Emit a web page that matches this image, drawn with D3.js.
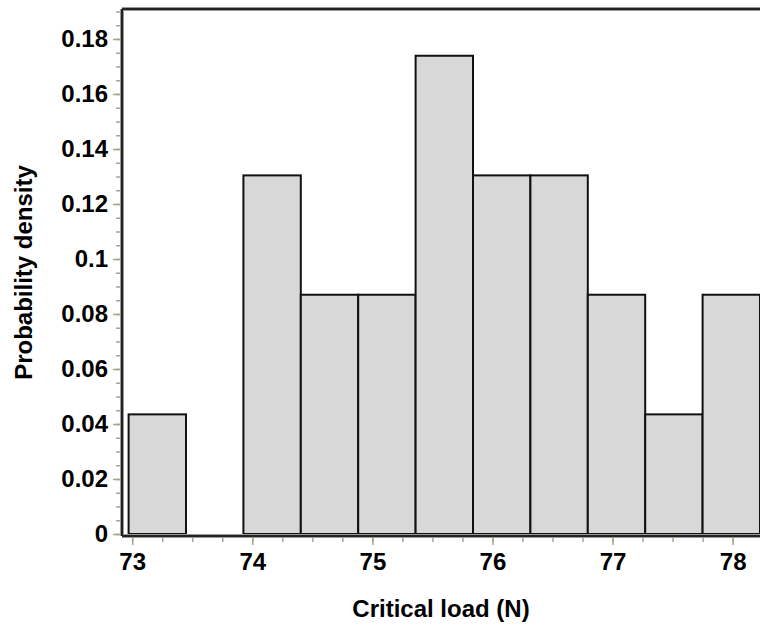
<!DOCTYPE html>
<html>
<head>
<meta charset="utf-8">
<script src="https://cdn.jsdelivr.net/npm/d3@7"></script>
<style>
  html, body { margin: 0; padding: 0; background: #fff; }
  svg { display: block; font-family: "Liberation Sans", Arial, Helvetica, sans-serif; }
  .tick text { font-weight: bold; font-size: 24px; fill: #000; }
  .title { font-weight: bold; font-size: 24px; fill: #000; }
</style>
</head>
<body>
<svg id="chart" width="760" height="628"></svg>
<script>
// Histogram of critical load: bin edges (N) and density per bin
const binEdges = [72.97, 73.448, 73.926, 74.404, 74.882, 75.36, 75.838, 76.316, 76.794, 77.272, 77.75, 78.228];
const densities = [0.0435, 0, 0.1304, 0.087, 0.087, 0.1739, 0.1304, 0.1304, 0.087, 0.0435, 0.087];

// Axis ticks
const xTicks = [73, 74, 75, 76, 77, 78];
const xMinorTicks = d3.range(73, 78.01, 0.25);
const yTicks = [0, 0.02, 0.04, 0.06, 0.08, 0.1, 0.12, 0.14, 0.16, 0.18];
const yTickLabels = ["0", "0.02", "0.04", "0.06", "0.08", "0.1", "0.12", "0.14", "0.16", "0.18"];
const yMinorTicks = d3.range(0, 0.1901, 0.005);

const xDomain = [72.915, 78.228];
const yDomain = [0, 0.1909];

const bins = densities.map((d, i) => ({ x0: binEdges[i], x1: binEdges[i + 1], d }));

const svg = d3.select("#chart");
const plot = { left: 122, right: 760, top: 9, zero: 534, axisY: 536 };

const x = d3.scaleLinear().domain(xDomain).range([plot.left, plot.right]);
const y = d3.scaleLinear().domain(yDomain).range([plot.zero, plot.top]);

const tickColor = "#aaa28c";

// Bars
svg.append("g")
  .selectAll("rect")
  .data(bins)
  .join("rect")
  .attr("x", b => x(b.x0))
  .attr("y", b => y(b.d))
  .attr("width", b => x(b.x1) - x(b.x0))
  .attr("height", b => y(0) - y(b.d))
  .attr("fill", "#d8d8d8")
  .attr("stroke", "#111")
  .attr("stroke-width", 2);

// Frame: top, left and bottom lines
const frame = [
  [[plot.left, plot.top], [plot.right, plot.top]],
  [[plot.left, plot.top], [plot.left, plot.axisY]],
  [[plot.left, plot.axisY], [plot.right, plot.axisY]]
];
const line = d3.line();
frame.forEach(seg => {
  svg.append("path").attr("d", line(seg)).attr("stroke", "#9a9a9a").attr("stroke-width", 4).attr("fill", "none");
});
frame.forEach(seg => {
  svg.append("path").attr("d", line(seg)).attr("stroke", "#222").attr("stroke-width", 2).attr("fill", "none");
});

// Y axis (major with labels, minor without)
const yAxis = svg.append("g")
  .attr("transform", "translate(120,0)")
  .call(d3.axisLeft(y).tickValues(yTicks).tickSize(7).tickPadding(5)
    .tickFormat((d, i) => yTickLabels[i]));
yAxis.select(".domain").remove();
yAxis.selectAll(".tick line").attr("stroke", tickColor).attr("stroke-width", 1.5);

const yMinor = svg.append("g")
  .attr("transform", "translate(120,0)")
  .call(d3.axisLeft(y).tickValues(yMinorTicks).tickSize(4).tickFormat(""));
yMinor.select(".domain").remove();
yMinor.selectAll(".tick line").attr("stroke", tickColor).attr("stroke-width", 1.5);

// X axis
const xAxis = svg.append("g")
  .attr("transform", "translate(0,538)")
  .call(d3.axisBottom(x).tickValues(xTicks).tickSize(7).tickPadding(8).tickFormat(d3.format("d")));
xAxis.select(".domain").remove();
xAxis.selectAll(".tick line").attr("stroke", tickColor).attr("stroke-width", 1.5);

const xMinor = svg.append("g")
  .attr("transform", "translate(0,538)")
  .call(d3.axisBottom(x).tickValues(xMinorTicks).tickSize(4).tickFormat(""));
xMinor.select(".domain").remove();
xMinor.selectAll(".tick line").attr("stroke", tickColor).attr("stroke-width", 1.5);

svg.selectAll(".tick text").attr("font-family", null).attr("font-size", null);

// Axis titles
svg.append("text")
  .attr("class", "title")
  .attr("x", (plot.left + plot.right) / 2)
  .attr("y", 617)
  .attr("text-anchor", "middle")
  .text("Critical load (N)");

svg.append("text")
  .attr("class", "title")
  .attr("transform", `translate(32,${(plot.top + plot.axisY) / 2}) rotate(-90)`)
  .attr("text-anchor", "middle")
  .text("Probability density");
</script>
</body>
</html>
